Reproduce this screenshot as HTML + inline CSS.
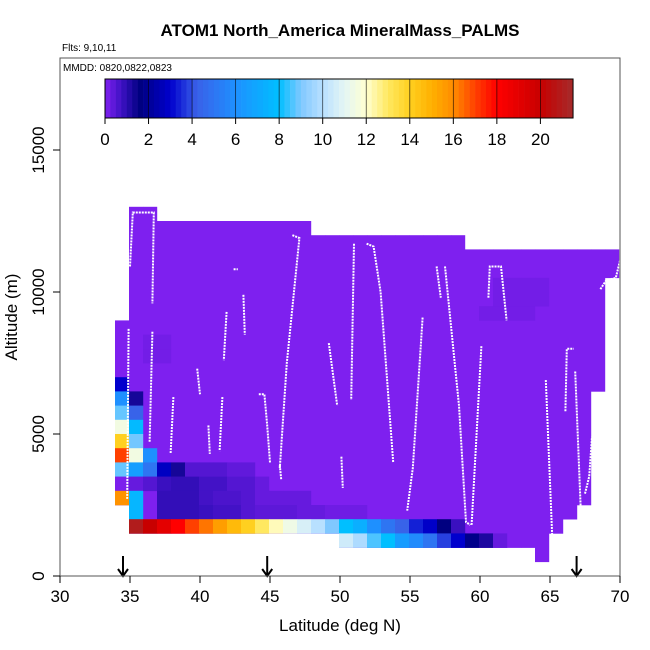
<!DOCTYPE html>
<html><head><meta charset="utf-8"><style>
html,body{margin:0;padding:0;background:#fff;}
svg{display:block;font-family:"Liberation Sans",Arial,sans-serif;}
</style></head><body>
<svg id="chart" width="650" height="650" viewBox="0 0 650 650" xmlns="http://www.w3.org/2000/svg">
<text x="340" y="36" text-anchor="middle" font-size="17" font-weight="bold">ATOM1 North_America MineralMass_PALMS</text>
<text x="62" y="51" font-size="10">Flts: 9,10,11</text>
<g id="cells"></g>
<g id="tracks"></g>
<g id="arrows"></g>
<rect x="60" y="58" width="560" height="518" fill="none" stroke="#555" stroke-width="1"/>
<text x="63" y="71" font-size="10">MMDD: 0820,0822,0823</text>
<g id="cbar"></g>
<g id="axes"></g>
<text x="340" y="631" text-anchor="middle" font-size="17">Latitude (deg N)</text>
<text x="0" y="0" transform="translate(17,317) rotate(-90)" text-anchor="middle" font-size="17">Altitude (m)</text>
</svg>
<script>
// ---- data ----
const xTicks = [30,35,40,45,50,55,60,65,70];
const yTicks = [0,5000,10000,15000];
const cbTicks = [0,2,4,6,8,10,12,14,16,18,20];
const cmapVals = [0,0.8,1.6,3,4.2,6,8,9,10,11,12,13,14,15,16,17,18,20,21.5];
const cmapCols = ["#8020f0","#3a10c0","#000080","#0000cd","#3a60e8","#1e90ff","#00bfff","#80c8ff","#b8e0ff","#e4f6f4","#ffffd0","#ffe860","#ffd020","#ffb000","#ff8c00","#ff4000","#ff0000","#c80000","#a52a2a"];
// footprint of base (low-value) cells: [lat, bottomAlt, topAlt]
const footLat = [34,35,36,37,38,39,40,41,42,43,44,45,46,47,48,49,50,51,52,53,54,55,56,57,58,59,60,61,62,63,64,65,66,67,68,69];
const footBot = [2500,1500,1500,1500,1500,1500,1500,1500,1500,1500,1500,1500,1500,1500,1500,1500,1000,1000,1000,1000,1000,1000,1000,1000,1000,1000,1000,1000,1000,1000,500,1500,2000,2500,6500,10500];
const footTop = [9000,13000,13000,12500,12500,12500,12500,12500,12500,12500,12500,12500,12500,12500,12000,12000,12000,12000,12000,12000,12000,12000,12000,12000,12000,11500,11500,11500,11500,11500,11500,11500,11500,11500,11500,11500];
const baseValue = 0.02;
// individual cells [lat, alt(bottom), value]
const cellLat = [34,34,34,34,34,34,34,34,34, 35,35,35,35,35,35,35,35,35, 36,36,36, 37,37,37,37, 38,38,38,38, 39,39,39,39, 40,40,40,40, 41,41,41,41, 42,42,42,42, 43,43,43,43, 44,44,44, 45,45,46,46,47,47,48,49,50,51,
 35,36,37,38,39,40,41,42,43,44,45,46,47,48,49,50,51,52,53,54,55,56,57,58,
 50,51,52,53,54,55,56,57,58,59,60,61,
 36,36,37,37, 61,62,63,64,61,62,63,64,60,61,62,63];
const cellAlt = [6500,6000,5500,5000,4500,4000,3500,3000,2500, 6000,5500,5000,4500,4000,3500,3000,2500,2000, 4000,3500,3000, 3500,3000,2500,2000, 3500,3000,2500,2000, 3500,3000,2500,2000, 3500,3000,2500,2000, 3500,3000,2500,2000, 3500,3000,2500,2000, 3500,3000,2500,2000, 3000,2500,2000, 2500,2000,2500,2000,2500,2000,2000,2000,2000,2000,
 1500,1500,1500,1500,1500,1500,1500,1500,1500,1500,1500,1500,1500,1500,1500,1500,1500,1500,1500,1500,1500,1500,1500,1500,
 1000,1000,1000,1000,1000,1000,1000,1000,1000,1000,1000,1000,
 7500,8000,7500,8000, 10000,10000,10000,10000,9500,9500,9500,9500,9000,9000,9000,9000];
const cellVal = [3,6,8.8,11.5,14,17,8.8,0.05,15.8, 1.3,4.3,7.8,8.9,11.5,6.6,0.3,7.6,7.6, 6,5,0.5, 2.8,0.8,0.9,0.9, 1.3,0.9,0.9,0.9, 0.5,0.9,0.9,0.9, 0.5,0.7,0.7,0.8, 0.5,0.7,0.6,0.7, 0.35,0.5,0.6,0.7, 0.35,0.5,0.5,0.5, 0.3,0.3,0.4, 0.3,0.4,0.3,0.4,0.3,0.3,0.3,0.2,0.2,0.2,
 21,20,19,18,17,16.3,15.5,14.7,14,13,12.2,11.4,10.7,10,9,8,7.3,6,5,4.3,3.4,2.9,1.6,0.8,
 10.5,9.8,8.6,8,6.5,5.8,5,3.8,3,1.8,1.2,0.3,
 0.15,0.15,0.15,0.15, 0.15,0.15,0.15,0.15,0.15,0.15,0.15,0.15,0.15,0.15,0.15,0.15];
// flight tracks [lat, alt]
const tracks = [
 [[34.9,8700],[34.8,2700]],
 [[35.0,10900],[35.2,12800],[36.7,12800],[36.6,9600]],
 [[36.6,8600],[36.4,4700]],
 [[42.4,10800],[42.7,10800]],
 [[41.9,9300],[41.7,7600]],
 [[43.1,9900],[43.2,8500]],
 [[39.8,7300],[40.0,6400]],
 [[38.1,6300],[37.9,4300]],
 [[41.6,6300],[41.4,4400]],
 [[40.6,5300],[40.7,4300]],
 [[44.2,6400],[44.6,6400],[44.8,5300],[45.0,4000]],
 [[45.7,3900],[45.8,3400]],
 [[46.6,12000],[47.1,11900],[46.2,7500],[45.7,3800]],
 [[49.2,8200],[49.8,6000]],
 [[51.9,11700],[52.4,11600],[52.9,10000],[53.8,4000]],
 [[51.0,11700],[50.8,6200]],
 [[50.1,4200],[50.2,3100]],
 [[55.9,9100],[55.2,3800],[54.8,2300]],
 [[56.9,10900],[57.2,9800]],
 [[57.5,10900],[58.5,6000],[59.0,1900],[59.3,1800]],
 [[59.4,1800],[60.1,8100]],
 [[60.6,9800],[60.7,10900],[61.5,10900],[61.9,9000]],
 [[64.7,6900],[65.2,900]],
 [[66.1,5800],[66.2,8000],[66.7,8000]],
 [[66.8,7200],[67.2,2300]],
 [[67.5,2900],[67.8,3500],[68.0,4900]],
 [[68.6,10100],[69.0,10400],[69.7,10500],[69.9,10900],[70,11100]]
];
const arrowLats = [34.5,44.8,66.9];

// ---- scales ----
const X = lat => 60 + (lat-30)*14;
const XC = lat => 59 + (lat-30)*14;
const Y = alt => 576 - alt*0.0284;
const CB = v => 105 + v*21.77;
function hex(c){return [parseInt(c.substr(1,2),16),parseInt(c.substr(3,2),16),parseInt(c.substr(5,2),16)];}
function cmap(v){
  if(v<=cmapVals[0]) return cmapCols[0];
  for(let i=1;i<cmapVals.length;i++){
    if(v<=cmapVals[i]){
      const t=(v-cmapVals[i-1])/(cmapVals[i]-cmapVals[i-1]);
      const a=hex(cmapCols[i-1]),b=hex(cmapCols[i]);
      return 'rgb('+a.map((x,k)=>Math.round(x+(b[k]-x)*t)).join(',')+')';
    }
  }
  return cmapCols[cmapCols.length-1];
}
const NS='http://www.w3.org/2000/svg';
function mk(tag,attrs,parent){const e=document.createElementNS(NS,tag);for(const k in attrs)e.setAttribute(k,attrs[k]);parent.appendChild(e);return e;}

const cells=document.getElementById('cells');
footLat.forEach((lat,i)=>{
  const r=mk('rect',{x:XC(lat),y:Y(footTop[i]),width:14.2,height:Y(footBot[i])-Y(footTop[i])+0.3,fill:cmap(baseValue)},cells);
  
  
});
cellLat.forEach((lat,i)=>{
  const r=mk('rect',{x:XC(lat),y:Y(cellAlt[i]+500),width:14.2,height:Y(cellAlt[i])-Y(cellAlt[i]+500)+0.3,fill:cmap(cellVal[i])},cells);
  
  
});
const tg=document.getElementById('tracks');
tracks.forEach(t=>{
  const p=mk('polyline',{points:t.map(q=>X(q[0])+','+Y(q[1])).join(' '),fill:'none',stroke:'#fff','stroke-width':2,'stroke-dasharray':'2 1'},tg);
  
  
});
const ag=document.getElementById('arrows');
arrowLats.forEach(l=>{
  const x=X(l);
  const g=mk('g',{},ag);
  
  
  mk('line',{x1:x,y1:556,x2:x,y2:576,stroke:'#000','stroke-width':2},g);
  mk('polyline',{points:(x-5)+',569 '+x+',576 '+(x+5)+',569',fill:'none',stroke:'#000','stroke-width':2},g);
});
const cb=document.getElementById('cbar');
for(let v=0;v<21.5;v+=0.25){
  mk('rect',{x:CB(v),y:79,width:21.77*0.25+0.3,height:39,fill:cmap(v+0.125)},cb);
}
cbTicks.forEach(v=>{
  if(v>0) mk('line',{x1:CB(v),y1:79,x2:CB(v),y2:118,stroke:'#000','stroke-width':0.8,opacity:0.7},cb);
  mk('line',{x1:CB(v),y1:118,x2:CB(v),y2:124,stroke:'#000','stroke-width':1},cb);
  const t=mk('text',{x:CB(v),y:145,'text-anchor':'middle','font-size':17},cb);
  t.textContent=v;
  
  
});
mk('rect',{x:105,y:79,width:CB(21.5)-105,height:39,fill:'none',stroke:'#000','stroke-width':1},cb);
const ax=document.getElementById('axes');
xTicks.forEach(v=>{
  mk('line',{x1:X(v),y1:576,x2:X(v),y2:583,stroke:'#000'},ax);
  const t=mk('text',{x:X(v),y:602,'text-anchor':'middle','font-size':17},ax);
  t.textContent=v;
  
  
});
yTicks.forEach(v=>{
  mk('line',{x1:53,y1:Y(v),x2:60,y2:Y(v),stroke:'#000'},ax);
  const t=mk('text',{x:0,y:0,transform:'translate(44,'+Y(v)+') rotate(-90)','text-anchor':'middle','font-size':17},ax);
  t.textContent=v;
  
  
});
</script>
</body></html>
